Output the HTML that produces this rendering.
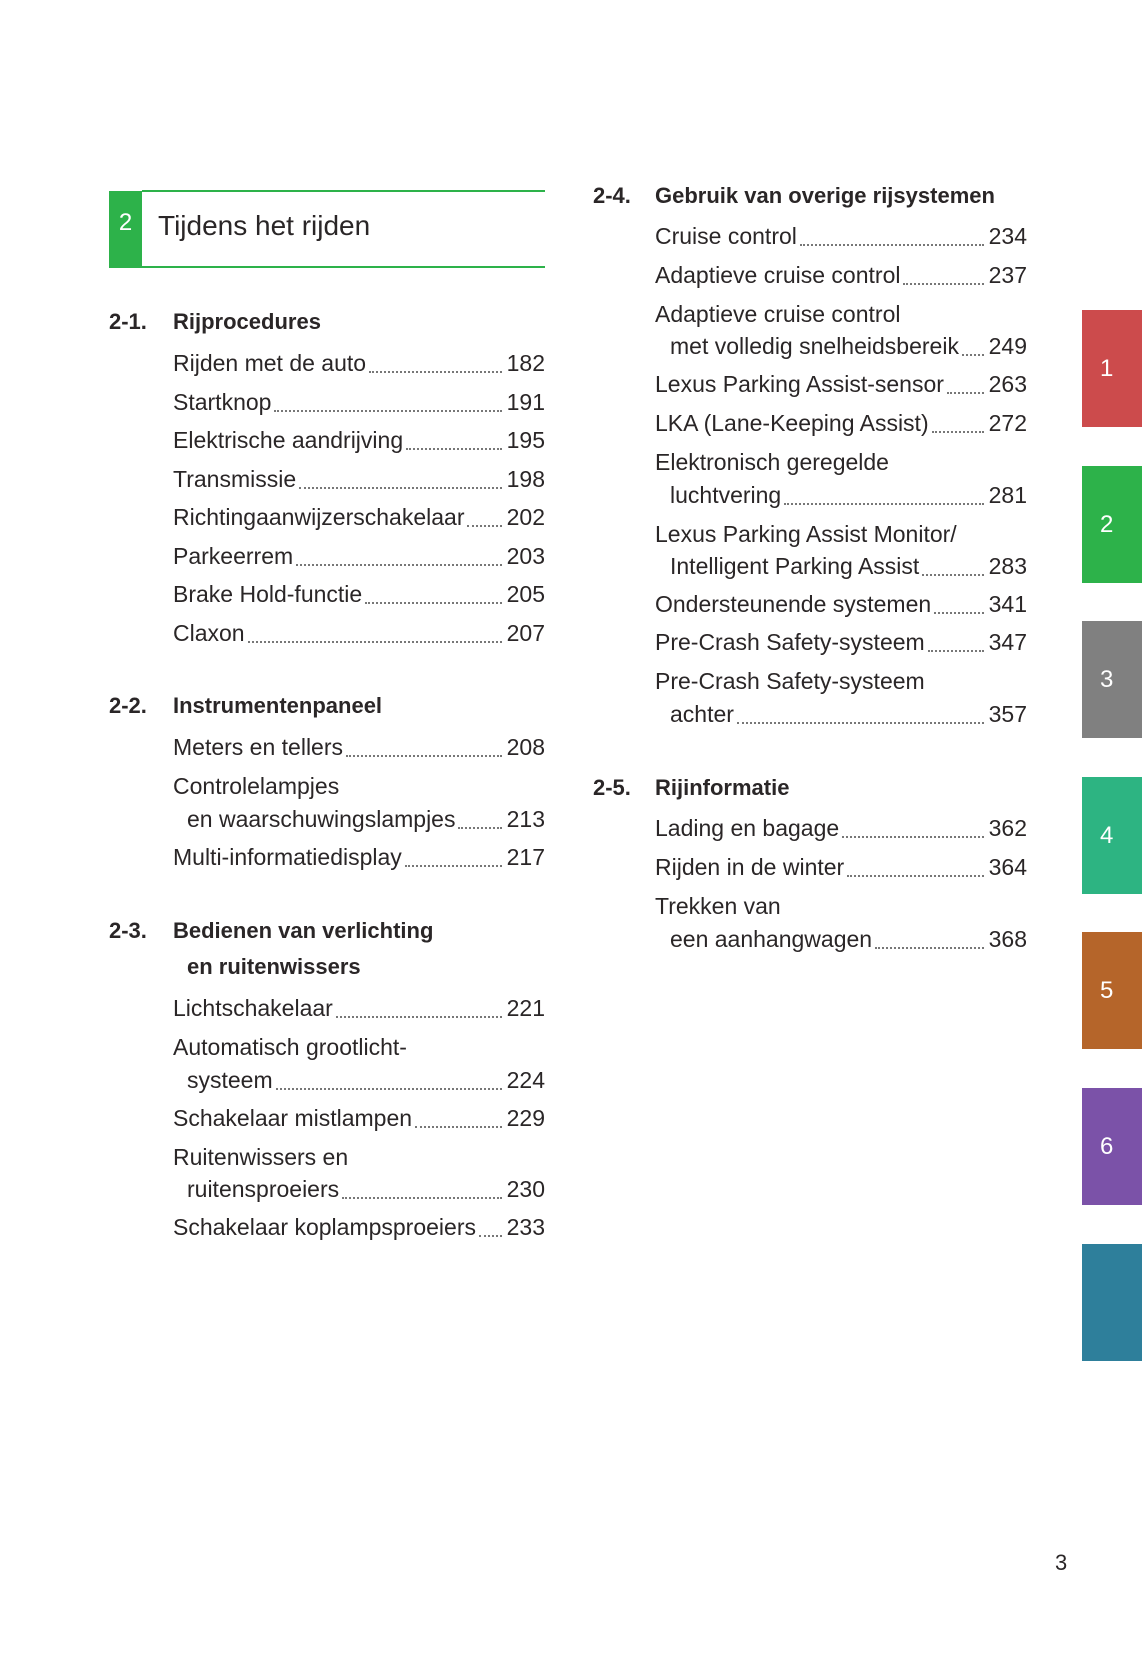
<!DOCTYPE html>
<html><head><meta charset="utf-8"><style>
body{margin:0;width:1142px;height:1654px;background:#fff;position:relative;overflow:hidden;font-family:"Liberation Sans",sans-serif;color:#2a2627}
.a{position:absolute;height:40px;line-height:40px;font-size:23px;display:flex;white-space:nowrap}
.a .d{flex:1;border-bottom:2px dotted #777;height:28px;margin:0 5px 0 3px}
.h{position:absolute;height:40px;line-height:40px;font-size:22px;font-weight:bold;white-space:nowrap}
.l{left:173px;width:372px}.li{left:187px;width:358px}
.r{left:655px;width:372px}.ri{left:670px;width:357px}
.tab{position:absolute;left:1082px;width:60px;height:117px;color:#fff;font-size:24px;line-height:117px;text-indent:18px}
</style></head><body>
<div style="position:absolute;left:109px;top:191px;width:33px;height:77px;background:#2db24a;color:#fff;font-size:24px;line-height:64px;text-align:center">2</div>
<div style="position:absolute;left:142px;top:190px;width:403px;height:2px;background:#2db24a"></div>
<div style="position:absolute;left:142px;top:266px;width:403px;height:2px;background:#2db24a"></div>
<div style="position:absolute;left:158px;top:208px;font-size:28px;line-height:36px">Tijdens het rijden</div>

<div class="h" style="left:109px;top:302px">2-1.</div><div class="h" style="left:173px;top:302px">Rijprocedures</div>
<div class="a l" style="top:343px">Rijden met de auto<span class="d"></span>182</div>
<div class="a l" style="top:382px">Startknop<span class="d"></span>191</div>
<div class="a l" style="top:420px">Elektrische aandrijving<span class="d"></span>195</div>
<div class="a l" style="top:459px">Transmissie<span class="d"></span>198</div>
<div class="a l" style="top:497px">Richtingaanwijzerschakelaar<span class="d"></span>202</div>
<div class="a l" style="top:536px">Parkeerrem<span class="d"></span>203</div>
<div class="a l" style="top:574px">Brake Hold-functie<span class="d"></span>205</div>
<div class="a l" style="top:613px">Claxon<span class="d"></span>207</div>

<div class="h" style="left:109px;top:686px">2-2.</div><div class="h" style="left:173px;top:686px">Instrumentenpaneel</div>
<div class="a l" style="top:727px">Meters en tellers<span class="d"></span>208</div>
<div class="a l" style="top:766px">Controlelampjes</div>
<div class="a li" style="top:799px">en waarschuwingslampjes<span class="d"></span>213</div>
<div class="a l" style="top:837px">Multi-informatiedisplay<span class="d"></span>217</div>

<div class="h" style="left:109px;top:911px">2-3.</div><div class="h" style="left:173px;top:911px">Bedienen van verlichting</div>
<div class="h" style="left:187px;top:947px">en ruitenwissers</div>
<div class="a l" style="top:988px">Lichtschakelaar<span class="d"></span>221</div>
<div class="a l" style="top:1027px">Automatisch grootlicht-</div>
<div class="a li" style="top:1060px">systeem<span class="d"></span>224</div>
<div class="a l" style="top:1098px">Schakelaar mistlampen<span class="d"></span>229</div>
<div class="a l" style="top:1137px">Ruitenwissers en</div>
<div class="a li" style="top:1169px">ruitensproeiers<span class="d"></span>230</div>
<div class="a l" style="top:1207px">Schakelaar koplampsproeiers<span class="d"></span>233</div>

<div class="h" style="left:593px;top:176px">2-4.</div><div class="h" style="left:655px;top:176px">Gebruik van overige rijsystemen</div>
<div class="a r" style="top:216px">Cruise control<span class="d"></span>234</div>
<div class="a r" style="top:255px">Adaptieve cruise control<span class="d"></span>237</div>
<div class="a r" style="top:294px">Adaptieve cruise control</div>
<div class="a ri" style="top:326px">met volledig snelheidsbereik<span class="d"></span>249</div>
<div class="a r" style="top:364px">Lexus Parking Assist-sensor<span class="d"></span>263</div>
<div class="a r" style="top:403px">LKA (Lane-Keeping Assist)<span class="d"></span>272</div>
<div class="a r" style="top:442px">Elektronisch geregelde</div>
<div class="a ri" style="top:475px">luchtvering<span class="d"></span>281</div>
<div class="a r" style="top:514px">Lexus Parking Assist Monitor/</div>
<div class="a ri" style="top:546px">Intelligent Parking Assist<span class="d"></span>283</div>
<div class="a r" style="top:584px">Ondersteunende systemen<span class="d"></span>341</div>
<div class="a r" style="top:622px">Pre-Crash Safety-systeem<span class="d"></span>347</div>
<div class="a r" style="top:661px">Pre-Crash Safety-systeem</div>
<div class="a ri" style="top:694px">achter<span class="d"></span>357</div>

<div class="h" style="left:593px;top:768px">2-5.</div><div class="h" style="left:655px;top:768px">Rijinformatie</div>
<div class="a r" style="top:808px">Lading en bagage<span class="d"></span>362</div>
<div class="a r" style="top:847px">Rijden in de winter<span class="d"></span>364</div>
<div class="a r" style="top:886px">Trekken van</div>
<div class="a ri" style="top:919px">een aanhangwagen<span class="d"></span>368</div>

<div class="tab" style="top:310px;background:#cc4b4c">1</div>
<div class="tab" style="top:466px;background:#2db24a">2</div>
<div class="tab" style="top:621px;background:#808080">3</div>
<div class="tab" style="top:777px;background:#2db482">4</div>
<div class="tab" style="top:932px;background:#b5652a">5</div>
<div class="tab" style="top:1088px;background:#7b52a8">6</div>
<div class="tab" style="top:1244px;background:#2e7f9b"></div>
<div style="position:absolute;left:1055px;top:1549px;font-size:22px;line-height:28px">3</div>
</body></html>
